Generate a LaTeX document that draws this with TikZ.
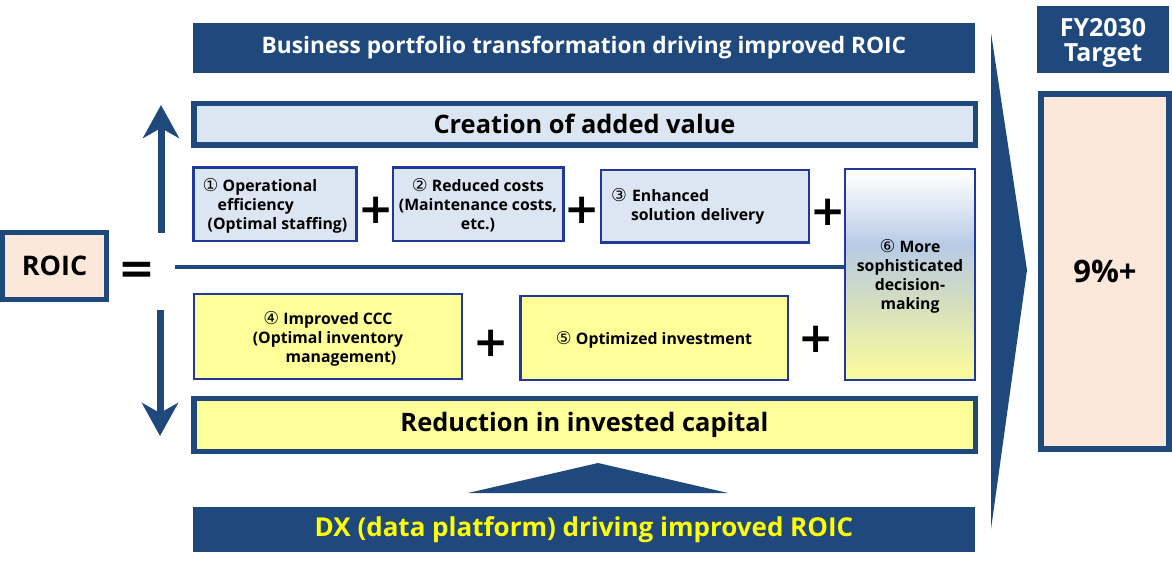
\documentclass[tikz,border=0pt]{standalone}
\usepackage{fontspec}
\setmainfont{Open Sans}
\newfontfamily\circfont{DejaVu Sans}
\newfontfamily\cnumfont[Scale=1.12]{DejaVu Sans}
\usetikzlibrary{arrows.meta}
\definecolor{navy}{HTML}{1F497D}
\definecolor{boxline}{HTML}{20399A}
\definecolor{lightfill}{HTML}{DCE6F2}
\definecolor{ylwfill}{HTML}{FFFF99}
\definecolor{peach}{HTML}{FCE8DA}
\definecolor{dxyellow}{HTML}{FFFF00}
\definecolor{bluefade}{HTML}{B7CAE6}
\definecolor{greenfade}{HTML}{D3DDC0}
\definecolor{ylwfade}{HTML}{F9F9A0}
\pgfdeclareverticalshading{decisionfade}{100bp}{color(0bp)=(ylwfade); color(27bp)=(ylwfade);
  color(44bp)=(greenfade); color(57bp)=(bluefade); color(74bp)=(white); color(100bp)=(white)}
\newcommand{\cnum}[1]{{\cnumfont\mdseries #1}}
\tikzset{
  % --- banners and bars ---
  banner/.style={fill=navy, text=white, inner sep=0pt, minimum width=782pt,
                 font=\bfseries\fontsize{22.7}{26}\selectfont},
  bar/.style={draw=navy, line width=5.5pt, inner sep=0pt, minimum width=781.5pt,
              font=\bfseries\fontsize{25.4}{30}\selectfont},
  framed/.style={draw=navy, line width=5pt, inner sep=0pt,
                 font=\bfseries\fontsize{27}{30}\selectfont},
  % --- the six levers ---
  lever/.style={draw=boxline, line width=2.5pt, inner sep=0pt, align=center,
                text depth=0pt, font=\bfseries\fontsize{15.8}{19}\selectfont},
  opsign/.style={inner sep=0pt, anchor=base, yshift=-16pt,
                 font=\circfont\bfseries\fontsize{42}{42}\selectfont},
  % --- arrows ---
  updown/.style={draw=navy, line width=7pt,
                 -{Stealth[length=33pt,width=36pt,inset=10pt]}},
  axisline/.style={draw=navy, line width=4pt},
}
\begin{document}
\begin{tikzpicture}[x=1pt,y=-1pt]
  \useasboundingbox (0,0) rectangle (1172,573);
  % banners
  \node[banner, minimum height=50pt] (portfolio) at (584,48)
    {Business portfolio transformation driving improved ROIC};
  \node[banner, minimum height=45pt, text=dxyellow,
        font=\bfseries\fontsize{26}{30}\selectfont] (dx) at (584,529.5)
    {DX (data platform) driving improved ROIC};
  \node[banner, minimum width=132pt, minimum height=67pt, align=center, text depth=0pt,
        font=\bfseries\fontsize{25}{25}\selectfont] (fy) at (1103,39.5) {FY2030\\Target};
  % target and ROIC
  \node[framed, fill=peach, line width=6pt, minimum width=128pt, minimum height=355pt,
        font=\bfseries\fontsize{31}{34}\selectfont] (target) at (1105,271.5) {9\%+};
  \node[framed, fill=peach, minimum width=104pt, minimum height=67pt] (roic) at (54.5,266) {ROIC};
  \node[opsign, font=\circfont\bfseries\fontsize{44}{44}\selectfont] (equals) at (137,267) {=};
  % creation of added value
  \node[bar, fill=lightfill, minimum height=41.5pt] (value) at (584.5,124) {Creation of added value};
  \node[lever, fill=lightfill, align=left, minimum width=163pt,
        minimum height=73.5pt] (ops) at (275,204)
    {\cnum{①} Operational\\\hspace*{15pt}efficiency\\\hspace*{5pt}(Optimal staffing)};
  \node[opsign] (plusa) at (376,207) {+};
  \node[lever, fill=lightfill, minimum width=170.5pt, minimum height=73.5pt] (costs) at (478,204)
    {\cnum{②} Reduced costs\\(Maintenance costs,\\etc.)};
  \node[opsign] (plusb) at (582,207) {+};
  \node[lever, fill=lightfill, align=left, text width=188pt, inner xsep=10pt, text depth={},
        minimum height=72.5pt] (solution) at (705,206)
    {\cnum{③} Enhanced\\\hspace*{20pt}solution delivery};
  \node[opsign] (plusc) at (828,209) {+};
  \node[lever, shade, shading=decisionfade, minimum width=130pt, minimum height=211pt]
    (decision) at (910,274.5) {\cnum{⑥} More\\sophisticated\\decision-\\making};
  % reduction in invested capital
  \node[lever, fill=ylwfill, minimum width=268pt, minimum height=85pt] (ccc) at (328,336.5)
    {\cnum{④} Improved CCC\\(Optimal inventory\\\hspace*{26pt}management)};
  \node[opsign] (plusd) at (491,340) {+};
  \node[lever, fill=ylwfill, minimum width=267.5pt, minimum height=84pt] (invest) at (654,338)
    {\cnum{⑤} Optimized investment};
  \node[opsign] (pluse) at (816,336) {+};
  \node[bar, fill=ylwfill, minimum height=53pt] (capital) at (584.5,425) {Reduction in invested capital};
  % funnel to target, push from DX
  \fill[navy] (991,33) -- (1027,270) -- (991,529) -- cycle;
  \fill[navy] (468,493) -- (598,463) -- (728,493) -- cycle;
  % up / down
  \coordinate (upfoot) at (161,233);
  \coordinate (uptip) at (161,105);
  \coordinate (downtop) at (160,310);
  \coordinate (downtip) at (160,436);
  \coordinate (axis) at (175,267);
  \draw[updown] (upfoot) -- (uptip);
  \draw[updown] (downtop) -- (downtip);
  \draw[axisline] (axis) -- (axis -| decision.west);
\end{tikzpicture}
\end{document}
